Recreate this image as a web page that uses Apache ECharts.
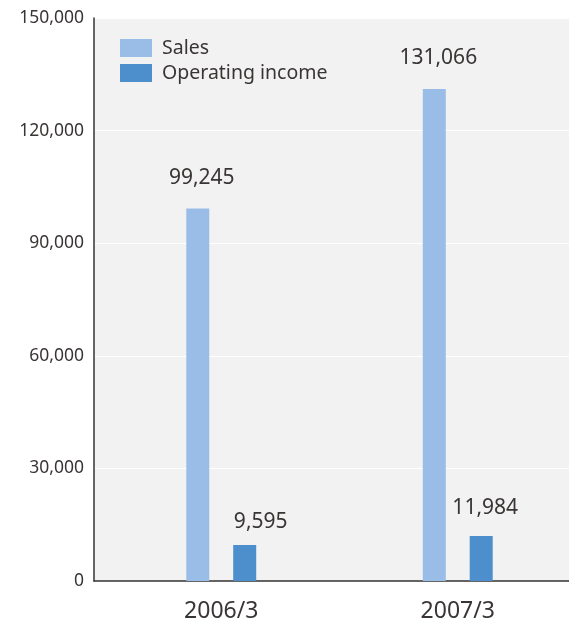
<!DOCTYPE html>
<html>
<head>
<meta charset="utf-8">
<script src="https://cdn.jsdelivr.net/npm/echarts@6/dist/echarts.min.js"></script>
<style>
  html, body { margin: 0; padding: 0; background: #ffffff; }
  #chart { width: 569px; height: 624px; }
</style>
</head>
<body>
<div id="chart"></div>
<script>
const categories = ['2006/3', '2007/3'];
const salesValues = [99245, 131066];
const operatingIncomeValues = [9595, 11984];
const yTicks = [0, 30000, 60000, 90000, 120000, 150000];

const FONT = '"Noto Sans", "Open Sans", sans-serif';
const TEXT = '#3a3535';
const SALES_COLOR = '#99bde6';
const OI_COLOR = '#4d8fcc';

// per-bar label placement: [dx, distance above bar]
const salesLabelPos = [[4, 20], [4, 21]];
const oiLabelPos = [[16, 12], [4, 18]];

const fmt = v => v.toLocaleString('en-US');

function barData(values, pos) {
  return values.map((v, i) => ({
    value: v,
    label: { offset: [pos[i][0], 0], distance: pos[i][1] }
  }));
}

const chart = echarts.init(document.getElementById('chart'), null, { renderer: 'canvas' });

chart.setOption({
  animation: false,
  backgroundColor: '#ffffff',
  textStyle: { fontFamily: FONT },
  grid: [
    { left: 94, right: 0, top: 18, bottom: 43, show: true, backgroundColor: '#f2f2f2', borderWidth: 0, outerBoundsMode: 'none' },
    { left: 103, right: -7, top: 18, bottom: 43, outerBoundsMode: 'none' }
  ],
  legend: {
    orient: 'vertical',
    left: 120,
    top: 38,
    padding: 0,
    itemWidth: 32,
    itemHeight: 18,
    itemGap: 5,
    icon: 'rect',
    textStyle: { fontFamily: FONT, fontSize: 19.5, color: TEXT, padding: [0, 0, 0, 5] },
    data: ['Sales', 'Operating income']
  },
  xAxis: [
    {
      gridIndex: 0, type: 'category', data: categories,
      axisLine: { show: true, lineStyle: { color: '#333333', width: 1.5 } },
      axisTick: { show: false }, axisLabel: { show: false }, splitLine: { show: false }
    },
    {
      gridIndex: 1, type: 'category', data: categories,
      axisLine: { show: false }, axisTick: { show: false },
      axisLabel: { fontFamily: FONT, fontSize: 23, color: TEXT, margin: 19 }
    }
  ],
  yAxis: [
    {
      gridIndex: 0, type: 'value', min: 0, max: yTicks[yTicks.length - 1], interval: yTicks[1] - yTicks[0],
      axisLine: { show: true, lineStyle: { color: '#333333', width: 1.5 } },
      axisTick: { show: false },
      axisLabel: {
        fontFamily: FONT, fontSize: 17.5, color: TEXT, margin: 10,
        padding: [6, 0, 0, 0], formatter: fmt
      },
      splitLine: { show: true, lineStyle: { color: '#ffffff', width: 1 } }
    },
    {
      gridIndex: 1, type: 'value', min: 0, max: yTicks[yTicks.length - 1],
      show: false, splitLine: { show: false }
    }
  ],
  series: [
    {
      name: 'Sales', type: 'bar', xAxisIndex: 1, yAxisIndex: 1,
      barWidth: 23, barGap: '104%',
      itemStyle: { color: SALES_COLOR },
      label: {
        show: true, position: 'top', fontFamily: FONT, fontSize: 21, color: TEXT,
        formatter: p => fmt(p.value)
      },
      data: barData(salesValues, salesLabelPos)
    },
    {
      name: 'Operating income', type: 'bar', xAxisIndex: 1, yAxisIndex: 1,
      barWidth: 23, barGap: '104%',
      itemStyle: { color: OI_COLOR },
      label: {
        show: true, position: 'top', fontFamily: FONT, fontSize: 21, color: TEXT,
        formatter: p => fmt(p.value)
      },
      data: barData(operatingIncomeValues, oiLabelPos)
    }
  ]
});
</script>
</body>
</html>
